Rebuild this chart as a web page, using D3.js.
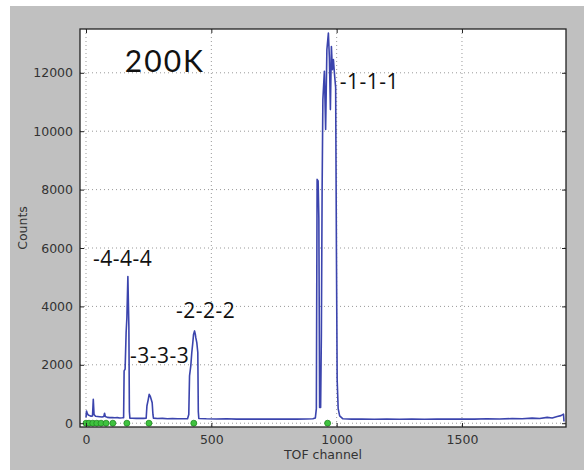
<!DOCTYPE html>
<html>
<head>
<meta charset="utf-8">
<script src="https://cdn.jsdelivr.net/npm/d3@7"></script>
<style>
  body { margin: 0; background: #fff; }
  svg { display: block; }
</style>
</head>
<body>
<div id="chart"></div>
<script>
// TOF spectrum: [channel, counts]
const spectrum = [
    [0, 200], [2, 420], [5, 330], [9, 280], [14, 260], [20, 240], [26, 250], [29, 820], [32, 300],
    [38, 240], [46, 230], [55, 220], [64, 210], [71, 230], [74, 340], [77, 230], [85, 200], [95, 190],
    [105, 195], [115, 185], [125, 190], [135, 180], [145, 185], [150, 190], [152, 1790], [156, 1850],
    [160, 3100], [163, 3600], [165, 4300], [167, 5020], [169, 4150], [171, 3300], [173, 400], [175, 175],
    [185, 170], [200, 165], [215, 170], [230, 165], [240, 170], [243, 590], [248, 800], [252, 990],
    [256, 930], [260, 820], [264, 700], [267, 300], [269, 175], [285, 160], [305, 165], [325, 155],
    [345, 160], [365, 150], [385, 155], [405, 150], [410, 300], [413, 1620], [418, 1960], [422, 2420],
    [426, 2750], [429, 3040], [433, 3160], [436, 3050], [438, 2930], [442, 2760], [446, 2420], [448, 400],
    [450, 160], [480, 150], [520, 145], [560, 150], [600, 140], [640, 145], [680, 140], [720, 145],
    [760, 140], [800, 145], [840, 140], [880, 145], [905, 150], [915, 180], [919, 500], [922, 8350],
    [926, 8300], [929, 7000], [932, 540], [936, 540], [939, 3000], [942, 8000], [945, 11080], [951, 12050],
    [956, 10060], [961, 12790], [967, 13360], [971, 12510], [975, 10740], [979, 12900], [983, 12110],
    [987, 12450], [992, 11880], [996, 11500], [999, 6000], [1002, 1500], [1006, 500], [1012, 250],
    [1025, 150], [1060, 140], [1100, 140], [1150, 135], [1200, 140], [1250, 135], [1300, 140],
    [1350, 135], [1400, 140], [1450, 140], [1500, 145], [1550, 140], [1600, 150], [1650, 145],
    [1700, 160], [1740, 150], [1780, 175], [1810, 160], [1840, 200], [1860, 180], [1880, 230],
    [1895, 260], [1905, 310], [1907, 60]
]

// green markers on the zero line
const markerChannels = [0, 12, 27, 43, 60, 80, 107, 163, 251, 430, 964]

const xTicks = [0, 500, 1000, 1500]
const yTicks = [0, 2000, 4000, 6000, 8000, 10000, 12000]

const peakLabels = ['-4-4-4', '-3-3-3', '-2-2-2', '-1-1-1']
const peakLabelAt = [[28, 5400], [175, 2050], [359, 3590], [1012, 11460]]
const title = '200K'
const titleAt = [155, 12040]

const WIDTH = 584
const HEIGHT = 470
const margin = { left: 80, top: 29, right: 18, bottom: 43 }

const svg = d3.select('#chart')
    .append('svg')
    .attr('width', WIDTH)
    .attr('height', HEIGHT)
    .style('font-family', '"DejaVu Sans", sans-serif')

// figure background
svg.append('rect')
    .attr('x', 10).attr('y', 6)
    .attr('width', WIDTH - 10).attr('height', HEIGHT - 6)
    .attr('fill', '#c0c0c0')

const x0 = margin.left, x1 = WIDTH - margin.right
const y0 = HEIGHT - margin.bottom, y1 = margin.top

const xScale = d3.scaleLinear().domain([-24, 1915]).range([x0, x1])
const yScale = d3.scaleLinear().domain([-130, 13500]).range([y0, y1])

svg.append('rect')
    .attr('x', x0).attr('y', y1)
    .attr('width', x1 - x0).attr('height', y0 - y1)
    .attr('fill', '#fff')

// grid
const grid = svg.append('g')
    .attr('stroke', '#999')
    .attr('stroke-width', 1)
    .attr('stroke-dasharray', '1,3')
grid.selectAll('.gx')
    .data(xTicks)
    .join('line')
    .attr('x1', d => xScale(d)).attr('x2', d => xScale(d))
    .attr('y1', y1).attr('y2', y0)
grid.selectAll('.gy')
    .data(yTicks)
    .join('line')
    .attr('y1', d => yScale(d)).attr('y2', d => yScale(d))
    .attr('x1', x0).attr('x2', x1)

// spectrum
const line = d3.line()
    .x(d => xScale(d[0]))
    .y(d => yScale(d[1]))

svg.append('clipPath').attr('id', 'plotclip')
    .append('rect')
    .attr('x', x0).attr('y', y1)
    .attr('width', x1 - x0).attr('height', y0 - y1)

svg.append('path')
    .datum(spectrum)
    .attr('clip-path', 'url(#plotclip)')
    .attr('fill', 'none')
    .attr('stroke', '#3b44ad')
    .attr('stroke-width', 1.6)
    .attr('stroke-linejoin', 'round')
    .attr('d', line)

svg.selectAll('.marker')
    .data(markerChannels)
    .join('circle')
    .attr('cx', d => xScale(d))
    .attr('cy', yScale(0))
    .attr('r', 3)
    .attr('fill', '#3fc23f')
    .attr('stroke', '#1f8a1f')
    .attr('stroke-width', 0.8)

// axes, ticks inward on all four sides
const tickLen = 4
const fmt = d3.format('d')
svg.append('g')
    .attr('transform', `translate(0, ${y0})`)
    .call(d3.axisBottom(xScale).tickValues(xTicks).tickSize(-tickLen).tickPadding(8).tickFormat(fmt))
svg.append('g')
    .attr('transform', `translate(0, ${y1})`)
    .call(d3.axisTop(xScale).tickValues(xTicks).tickSize(-tickLen).tickFormat(''))
svg.append('g')
    .attr('transform', `translate(${x0}, 0)`)
    .call(d3.axisLeft(yScale).tickValues(yTicks).tickSize(-tickLen).tickPadding(7).tickFormat(fmt))
svg.append('g')
    .attr('transform', `translate(${x1}, 0)`)
    .call(d3.axisRight(yScale).tickValues(yTicks).tickSize(-tickLen).tickFormat(''))

svg.selectAll('.domain').remove()
svg.selectAll('.tick line').attr('stroke', '#222')
svg.selectAll('.tick text')
    .attr('fill', '#333')
    .style('font-size', '12.5px')
    .style('font-family', '"DejaVu Sans", sans-serif')

svg.append('rect')
    .attr('x', x0).attr('y', y1)
    .attr('width', x1 - x0).attr('height', y0 - y1)
    .attr('fill', 'none')
    .attr('stroke', '#222')
    .attr('stroke-width', 1.3)

// axis labels
svg.append('text')
    .attr('x', (x0 + x1) / 2)
    .attr('y', 459)
    .attr('text-anchor', 'middle')
    .attr('fill', '#333')
    .style('font-size', '12.5px')
    .text('TOF channel')

svg.append('text')
    .attr('transform', `translate(27, ${(y0 + y1) / 2}) rotate(-90)`)
    .attr('text-anchor', 'middle')
    .attr('fill', '#333')
    .style('font-size', '12.5px')
    .text('Counts')

// annotations
svg.append('text')
    .attr('x', xScale(titleAt[0]))
    .attr('y', yScale(titleAt[1]))
    .attr('fill', '#111')
    .style('font-family', 'Lato, sans-serif')
    .style('font-size', '30px')
    .style('letter-spacing', '2px')
    .text(title)

svg.selectAll('.peak')
    .data(peakLabels)
    .join('text')
    .attr('x', (d, i) => xScale(peakLabelAt[i][0]))
    .attr('y', (d, i) => yScale(peakLabelAt[i][1]))
    .attr('fill', '#111')
    .style('font-family', '"Open Sans", sans-serif')
    .style('font-size', '21px')
    .style('letter-spacing', '0.5px')
    .text(d => d)
</script>
</body>
</html>
